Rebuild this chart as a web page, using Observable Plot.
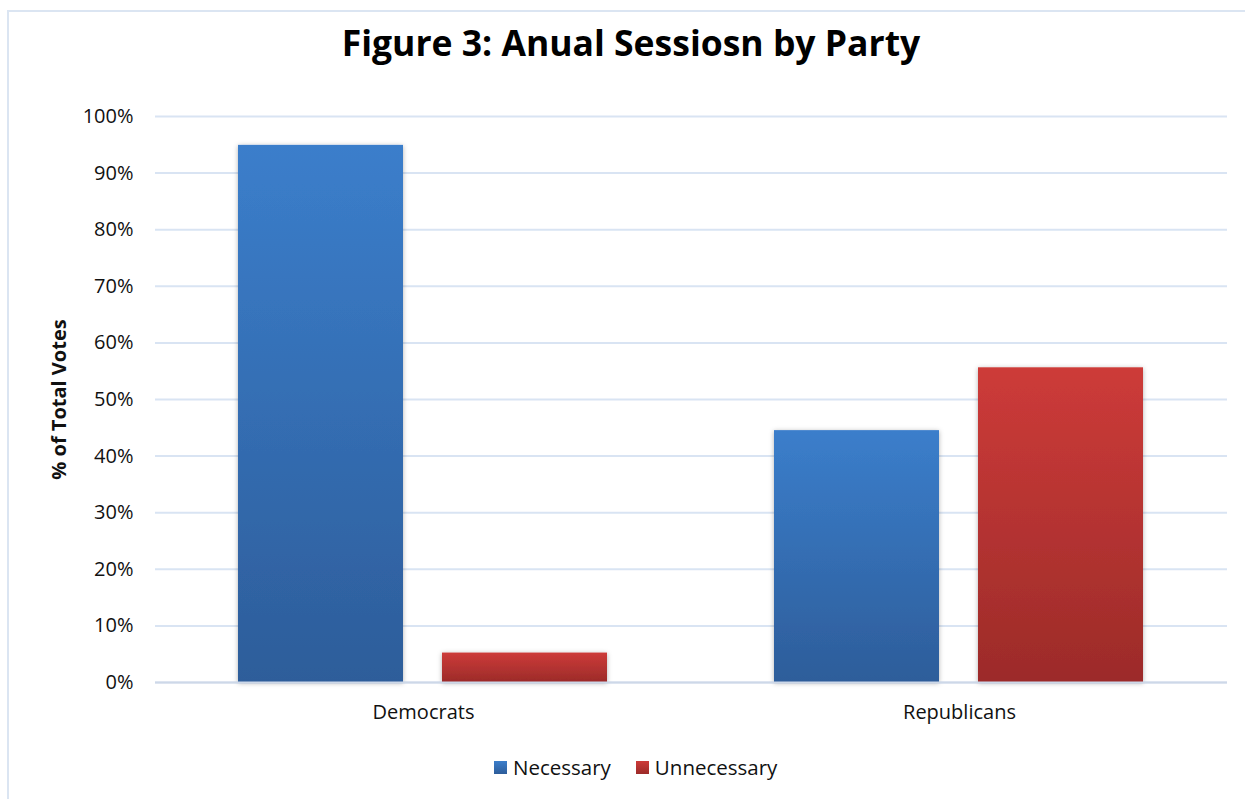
<!DOCTYPE html>
<html>
<head>
<meta charset="utf-8">
<script src="https://cdn.jsdelivr.net/npm/d3@7"></script>
<script src="https://cdn.jsdelivr.net/npm/@observablehq/plot@0.6"></script>
<style>
  html, body { margin: 0; padding: 0; background: #fff; overflow: hidden; }
  #wrap { position: relative; width: 1245px; height: 799px; font-family: "Open Sans", sans-serif; }
  #frame { position: absolute; left: 7px; top: 10px; width: 1260px; height: 820px; border: 2px solid #dbe5f2; box-sizing: border-box; }
  #title { position: absolute; left: 0; width: 1262px; top: 18px; text-align: center; font-weight: bold; font-size: 35.5px; color: #000; }
  #chart { position: absolute; left: 0; top: 0; }
  #legend { position: absolute; top: 753px; left: 494px; display: flex; align-items: center; font-size: 20.5px; color: #111; }
  .sw { width: 13px; height: 13px; display: inline-block; margin-right: 6px; }
  .item { display: flex; align-items: center; margin-right: 25px; }
  [aria-label="y-axis label"] text { font-weight: bold; }
</style>
</head>
<body>
<div id="wrap">
  <div id="frame"></div>
  <div id="chart"></div>
  <div id="title">Figure 3: Anual Sessiosn by Party</div>
  <div id="legend"></div>
</div>
<script>
const parties = ["Democrats", "Republicans"];
const series = ["Necessary", "Unnecessary"];
const necessary = [0.949, 0.445];
const unnecessary = [0.052, 0.556];
const yTicks = [0, 0.1, 0.2, 0.3, 0.4, 0.5, 0.6, 0.7, 0.8, 0.9, 1.0];
const gradTop = ["#3b7ecb", "#cd3b39"];
const gradBottom = ["#2d5d9a", "#9c2b29"];
const gradIds = ["gBlue", "gRed"];

const data = [];
parties.forEach((p, i) => {
  data.push({party: p, type: series[0], value: necessary[i]});
  data.push({party: p, type: series[1], value: unnecessary[i]});
});

const chart = Plot.plot({
  width: 1245,
  height: 799,
  marginLeft: 154,
  marginRight: 18,
  marginTop: 116,
  marginBottom: 117,
  style: {fontFamily: "'Open Sans', sans-serif", fontSize: "20px", color: "#111", background: "transparent"},
  fx: {domain: parties, padding: 0, label: null},
  x: {domain: series, paddingInner: 0.19, paddingOuter: 0.4036, axis: null},
  y: {domain: [0, 1], ticks: yTicks, label: null},
  color: {domain: series, range: gradIds.map(id => `url(#${id})`)},
  marks: [
    Plot.gridY(yTicks, {stroke: "#d9e4f3", strokeWidth: 2, strokeOpacity: 1}),
    Plot.axisY(yTicks, {tickFormat: d3.format(".0%"), tickSize: 0, tickPadding: 22, label: "% of Total Votes", labelAnchor: "center", labelOffset: 104, labelArrow: "none", fontSize: 20}),
    Plot.axisFx({anchor: "bottom", tickSize: 0, tickPadding: 22, label: null, fontSize: 20}),
    Plot.barY(data, {fx: "party", x: "type", y: "value", fill: "type"}),
    Plot.ruleY([0], {stroke: "#cdd8e8", strokeWidth: 2})
  ]
});

// gradient + shadow definitions
const svg = d3.select(chart);
const defs = svg.insert("defs", ":first-child");
gradIds.forEach((id, i) => {
  const g = defs.append("linearGradient").attr("id", id).attr("x1", 0).attr("y1", 0).attr("x2", 0).attr("y2", 1);
  g.append("stop").attr("offset", "0%").attr("stop-color", gradTop[i]);
  g.append("stop").attr("offset", "100%").attr("stop-color", gradBottom[i]);
});
const f = defs.append("filter").attr("id", "shadow").attr("x", "-10%").attr("y", "-10%").attr("width", "120%").attr("height", "120%");
f.append("feDropShadow").attr("dx", 0).attr("dy", 1).attr("stdDeviation", 2.5).attr("flood-color", "#000").attr("flood-opacity", 0.3);
svg.selectAll('g[aria-label="bar"]').attr("filter", "url(#shadow)");

document.getElementById("chart").appendChild(chart);

const legend = d3.select("#legend");
series.forEach((s, i) => {
  const it = legend.append("div").attr("class", "item");
  it.append("span").attr("class", "sw").style("background", `linear-gradient(${gradTop[i]}, ${gradBottom[i]})`);
  it.append("span").text(s);
});
</script>
</body>
</html>
